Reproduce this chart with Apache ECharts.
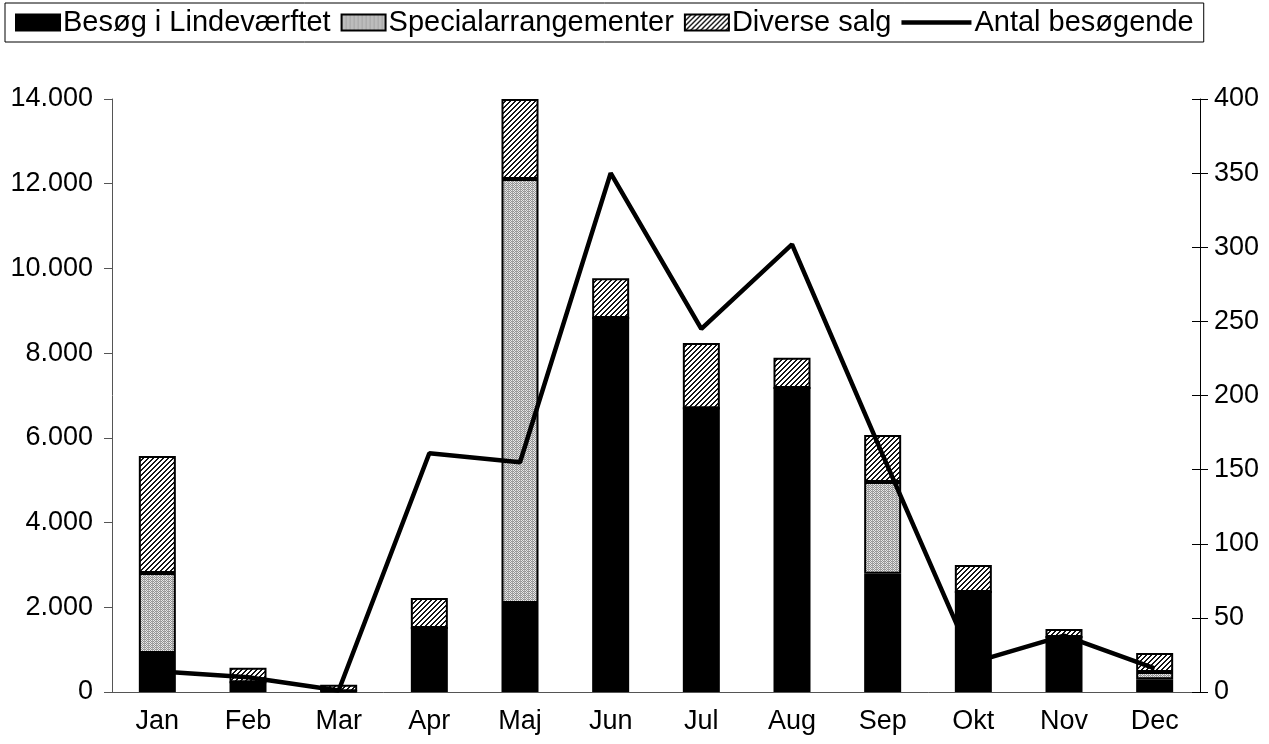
<!DOCTYPE html>
<html>
<head>
<meta charset="utf-8">
<script src="https://cdn.jsdelivr.net/npm/echarts@6/dist/echarts.min.js"></script>
<style>
html,body{margin:0;padding:0;background:#fff;}
#chart{width:1269px;height:744px;}
</style>
</head>
<body>
<div id="chart"></div>
<script>
const categories = ['Jan','Feb','Mar','Apr','Maj','Jun','Jul','Aug','Sep','Okt','Nov','Dec'];
const besog = [920, 230, 20, 1510, 2100, 8830, 6700, 7180, 2790, 2360, 1300, 300];
const special = [1890, 0, 0, 0, 10010, 0, 0, 0, 2170, 0, 0, 170];
const diverse = [2760, 340, 150, 710, 1890, 940, 1540, 710, 1110, 640, 190, 450];
const antal = [14, 10, 1, 161, 155, 350, 245, 302, 160, 20, 38, 16];
const seriesNames = ['Besøg i Lindeværftet','Specialarrangementer','Diverse salg','Antal besøgende'];

function makePattern(size, fn) {
  const c = document.createElement('canvas');
  c.width = size; c.height = size;
  const ctx = c.getContext('2d');
  const img = ctx.createImageData(size, size);
  for (let y = 0; y < size; y++) {
    for (let x = 0; x < size; x++) {
      const v = fn(x, y);
      const i = (y * size + x) * 4;
      img.data[i] = v; img.data[i+1] = v; img.data[i+2] = v; img.data[i+3] = 255;
    }
  }
  ctx.putImageData(img, 0, 0);
  return c;
}
const grayPat = makePattern(4, (x, y) => (x % 4 === 0) ? 165 : (((x + y) % 2 === 0) ? 145 : 232));
const hatchPat = makePattern(5, (x, y) => (((x + y) % 5) < 2) ? 20 : 255);

const FONT = '"Liberation Sans", Arial, sans-serif';
const chart = echarts.init(document.getElementById('chart'), null, {renderer: 'canvas'});
const border = {borderColor: '#000', borderWidth: 2};
const barIcon = 'path://M0,0M70,16M0,0H44V16H0Z';
const lineIcon = 'path://M0,0M70,16M0,5.8H70V10.2H0Z';
const barText = {fontFamily: FONT, fontSize: 29, color: '#000', padding: [0, 0, 0, -28]};
const lineText = {fontFamily: FONT, fontSize: 29, color: '#000', padding: [0, 0, 0, -2]};

chart.setOption({
  animation: false,
  backgroundColor: '#fff',
  textStyle: {fontFamily: FONT},
  legend: {
    left: 5, top: 3,
    padding: [5, 10, 5, 10],
    itemGap: 10,
    itemWidth: 70, itemHeight: 16,
    borderColor: '#000', borderWidth: 1,
    backgroundColor: '#fff',
    textStyle: {fontFamily: FONT, fontSize: 29, color: '#000'},
    data: [
      {name: seriesNames[0], icon: barIcon, textStyle: barText},
      {name: seriesNames[1], icon: barIcon, textStyle: barText},
      {name: seriesNames[2], icon: barIcon, textStyle: barText},
      {name: seriesNames[3], icon: lineIcon, textStyle: lineText}
    ]
  },
  grid: {left: 112, right: 69, top: 99, bottom: 52, containLabel: false},
  xAxis: {
    type: 'category',
    data: categories,
    axisLine: {lineStyle: {color: '#555', width: 1}},
    axisTick: {length: 9, lineStyle: {color: '#555'}},
    axisLabel: {fontFamily: FONT, fontSize: 27, color: '#000', margin: 16}
  },
  yAxis: [
    {
      type: 'value', min: 0, max: 14000, interval: 2000,
      axisLine: {show: true, lineStyle: {color: '#555'}},
      axisTick: {show: true, length: 8, lineStyle: {color: '#555'}},
      splitLine: {show: false},
      axisLabel: {fontFamily: FONT, fontSize: 27, color: '#000', margin: 19,
        formatter: v => v === 0 ? '0' : (v / 1000).toFixed(3)}
    },
    {
      type: 'value', min: 0, max: 400, interval: 50, position: 'right',
      axisLine: {show: true, lineStyle: {color: '#000'}},
      axisTick: {show: true, length: 8, lineStyle: {color: '#000'}},
      splitLine: {show: false},
      axisLabel: {fontFamily: FONT, fontSize: 27, color: '#000', margin: 14}
    },
    {
      type: 'value', min: 0, max: 400, interval: 50, position: 'right',
      axisLine: {show: false},
      axisTick: {show: true, inside: true, length: 8, lineStyle: {color: '#000'}},
      splitLine: {show: false},
      axisLabel: {show: false}
    }
  ],
  series: [
    {name: seriesNames[0], type: 'bar', stack: 'a', data: besog, barWidth: 37,
      itemStyle: Object.assign({color: '#000'}, border)},
    {name: seriesNames[1], type: 'bar', stack: 'a', data: special, barWidth: 37,
      itemStyle: Object.assign({color: {image: grayPat, repeat: 'repeat'}}, border)},
    {name: seriesNames[2], type: 'bar', stack: 'a', data: diverse, barWidth: 37,
      itemStyle: Object.assign({color: {image: hatchPat, repeat: 'repeat'}}, border)},
    {name: seriesNames[3], type: 'line', yAxisIndex: 1, data: antal, z: 10,
      symbol: 'none', showSymbol: false,
      lineStyle: {color: '#000', width: 4.5}, itemStyle: {color: '#000'}}
  ]
});
</script>
</body>
</html>
